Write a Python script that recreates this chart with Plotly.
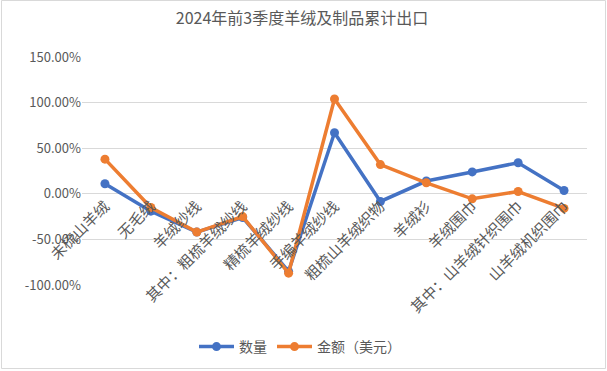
import plotly.graph_objects as go

categories = ["未梳山羊绒", "无毛绒", "羊绒纱线", "其中：粗梳羊绒纱线", "精梳羊绒纱线",
              "手编羊绒纱线", "粗梳山羊绒织物", "羊绒衫", "羊绒围巾", "其中：山羊绒针织围巾", "山羊绒机织围巾"]
qty = [0.11, -0.19, -0.42, -0.26, -0.85, 0.67, -0.084, 0.14, 0.24, 0.34, 0.036]
amount = [0.38, -0.15, -0.42, -0.25, -0.87, 1.04, 0.32, 0.12, -0.055, 0.025, -0.16]
ytick_vals = [1.5, 1.0, 0.5, 0.0, -0.5, -1.0]
ytick_text = ["150.00%", "100.00%", "50.00%", "0.00%", "-50.00%", "-100.00%"]
series_names = ["数量", "金额（美元）"]
colors = ["#4472C4", "#ED7D31"]

W, H = 607, 371
L, R, T, B = 82, 20, 57, 86
pw, ph = W - L - R, H - T - B

fig = go.Figure()
for name, vals, c in zip(series_names, [qty, amount], colors):
    fig.add_trace(go.Scatter(x=categories, y=vals, name=name, mode="lines+markers",
                             line=dict(color=c, width=3.5), marker=dict(color=c, size=9)))

font_family = "Noto Sans CJK SC, Noto Sans, sans-serif"
fig.update_layout(
    width=W, height=H,
    margin=dict(l=L, r=R, t=T, b=B, autoexpand=False),
    paper_bgcolor="white", plot_bgcolor="white",
    font=dict(family=font_family, color="#595959", size=12),
    title=dict(text="2024年前3季度羊绒及制品累计出口", x=302 / W, xanchor="center",
               y=1 - 18 / H, yanchor="middle", font=dict(size=16, color="#595959")),
    showlegend=True,
    legend=dict(orientation="h", x=(300 - L) / pw, xanchor="center",
                y=(H - B - 347) / ph, yanchor="middle", font=dict(size=14, color="#595959"),
                itemwidth=35, bgcolor="rgba(0,0,0,0)"),
    xaxis=dict(type="category", range=[-0.5, 10.5], anchor="free", position=0.4,
               tickangle=-45, ticks="", showgrid=False, showline=False, zeroline=False,
               tickfont=dict(size=15, color="#595959"), automargin=False),
    yaxis=dict(range=[-1.0, 1.5], tickvals=ytick_vals, ticktext=ytick_text,
               showgrid=True, gridcolor="#D9D9D9", gridwidth=1, zeroline=False,
               showline=False, ticks="", tickfont=dict(size=13, color="#595959"),
               automargin=False),
    shapes=[dict(type="rect", xref="paper", yref="paper",
                 x0=(1.5 - L) / pw, x1=(605.5 - L) / pw,
                 y0=(H - B - 368.5) / ph, y1=(H - B - 0.5) / ph,
                 line=dict(color="#D9D9D9", width=1), fillcolor="rgba(0,0,0,0)", layer="above")],
)

fig.write_html("out.html", config={"displayModeBar": False},
               post_script="document.body.style.margin='0';")
